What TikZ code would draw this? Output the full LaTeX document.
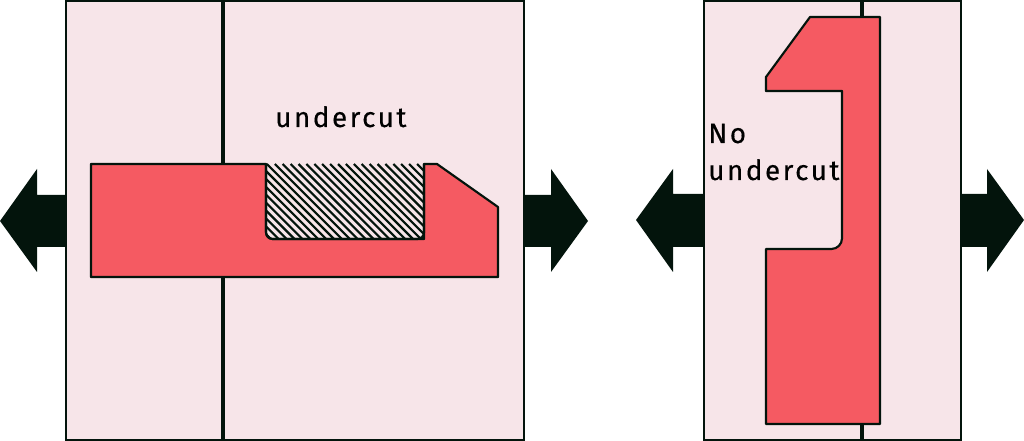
\documentclass[tikz,border=0pt]{standalone}
\usepackage{fontspec}
\setmainfont[LetterSpace=9,FakeBold=0.35]{Fira Sans}
\definecolor{plate}{RGB}{247,229,233}
\definecolor{part}{RGB}{245,90,98}
\definecolor{ink}{RGB}{3,20,12}
\tikzset{
	plate/.style={draw=ink,fill=plate,line width=1.2pt},
	part/.style={draw=ink,fill=part,line width=1.6pt,line join=round},
	parting/.style={draw=ink,line width=2.5pt},
	pull/.style={fill=ink},
	label/.style={text=black,font=\fontsize{20.9}{25}\selectfont,inner sep=0pt},
}
\begin{document}
\begin{tikzpicture}[x=0.75pt,y=-0.75pt]
	\useasboundingbox (0,0) rectangle (1024,441);
	
	\coordinate (A) at (66,1);
	\coordinate (B) at (524,440);
	\coordinate (C) at (704,1);
	\coordinate (D) at (961,440);
	
	% left mould
	\fill[pull](66,195)--(37,195)--(37,169)--(0,221)--(37,272)--(37,247)--(66,247)--cycle;
	\fill[pull](524,195)--(551,195)--(551,169)--(588,221)--(551,272)--(551,247)--(524,247)--cycle;
	\draw[plate](A)rectangle(B);
	\draw[parting](223,1)--(223,440);
	\draw[part,rounded corners=0.05pt](91,164)--(266,164)
	[rounded corners=5pt]--(266,239)[rounded corners=0.05pt]--(424,239)--(424,164)--(437,164)--(498,207)--(498,277)--(91,277)--cycle;
	\begin{scope}
		\clip(266,164)rectangle(424,239);
		\foreach \i in {0,1,...,31}
			\draw[ink,line width=1.6pt](180+7.9*\i,164)--(255+7.9*\i,239);
	\end{scope}
	\draw[ink,line width=1.6pt,rounded corners=5pt](266,164)--(266,239)--(424,239)--(424,164);
	\node[label,anchor=base west](undercutA) at (275,127){undercut};
	
	% right mould
	\fill[pull](704,194)--(673,194)--(673,169)--(636,220)--(673,272)--(673,247)--(704,247)--cycle;
	\fill[pull](961,194)--(987,194)--(987,169)--(1024,220)--(987,272)--(987,247)--(961,247)--cycle;
	\draw[plate](C)rectangle(D);
	\draw[parting](862,1)--(862,440);
	\draw[part](810,17)--(880,17)--(880,424)--(766,424)--(766,249)
	[rounded corners=8pt]--(842,249)[rounded corners=0.05pt]--(842,91)--(766,91)--(766,77)--cycle;
	\node[label,anchor=base west](noA) at (708,143){No};
	\node[label,anchor=base west](undercutB) at (708,180){undercut};
\end{tikzpicture}
\end{document}
